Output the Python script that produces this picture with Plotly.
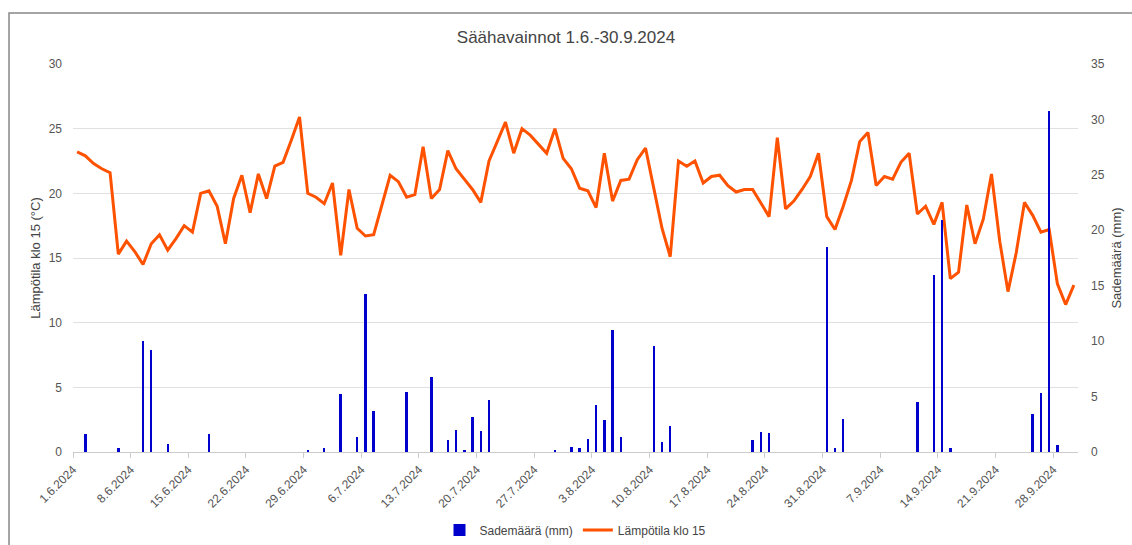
import pandas as pd
import plotly.graph_objects as go

# ---- data ----
start_date = "2024-06-01"
end_date = "2024-09-30"

temperature = [
    23.2, 22.9, 22.3, 21.9, 21.6, 15.3, 16.3, 15.5, 14.5, 16.1,
    16.8, 15.6, 16.5, 17.5, 17.0, 20.0, 20.2, 19.0, 16.1, 19.6,
    21.4, 18.5, 21.5, 19.6, 22.1, 22.4, 24.1, 25.9, 20.0, 19.7,
    19.2, 20.8, 15.2, 20.3, 17.3, 16.7, 16.8, 19.0, 21.4, 20.9,
    19.7, 19.9, 23.6, 19.6, 20.3, 23.3, 21.9, 21.1, 20.3, 19.3,
    22.5, 24.0, 25.5, 23.1, 25.0, 24.5, 23.8, 23.1, 25.0, 22.7,
    21.9, 20.4, 20.2, 18.9, 23.1, 19.4, 21.0, 21.1, 22.6, 23.5,
    20.4, 17.3, 15.1, 22.5, 22.1, 22.5, 20.8, 21.3, 21.4, 20.6,
    20.1, 20.3, 20.3, 19.2, 18.2, 24.3, 18.8, 19.4, 20.3, 21.3,
    23.1, 18.2, 17.2, 19.0, 21.0, 24.0, 24.7, 20.6, 21.3, 21.1,
    22.4, 23.1, 18.4, 19.0, 17.6, 19.3, 13.4, 13.9, 19.1, 16.1,
    18.0, 21.5, 16.3, 12.4, 15.4, 19.3, 18.3, 17.0, 17.2, 13.0,
    11.4, 12.9,
]

precipitation = [
    0, 1.6, 0, 0, 0, 0.4, 0, 0, 10.0, 9.2,
    0, 0.7, 0, 0, 0, 0, 1.65, 0, 0, 0,
    0, 0, 0, 0, 0, 0, 0, 0, 0.2, 0,
    0.35, 0, 5.2, 0, 1.35, 14.25, 3.7, 0, 0, 0,
    5.4, 0, 0, 6.8, 0, 1.1, 1.95, 0.15, 3.15, 1.9,
    4.7, 0, 0, 0, 0, 0, 0, 0, 0.1, 0,
    0.45, 0.4, 1.2, 4.24, 2.86, 11.0, 1.35, 0, 0, 0,
    9.6, 0.9, 2.35, 0, 0, 0, 0, 0, 0, 0,
    0, 0, 1.05, 1.83, 1.7, 0, 0, 0, 0, 0,
    0, 18.5, 0.4, 3.0, 0, 0, 0, 0, 0, 0,
    0, 0, 4.5, 0, 16.0, 20.9, 0.35, 0, 0, 0,
    0, 0, 0, 0, 0, 0, 3.4, 5.3, 30.8, 0.6,
    0, 0,
]

tick_dates = ["2024-06-01", "2024-06-08", "2024-06-15", "2024-06-22", "2024-06-29",
              "2024-07-06", "2024-07-13", "2024-07-20", "2024-07-27", "2024-08-03",
              "2024-08-10", "2024-08-17", "2024-08-24", "2024-08-31", "2024-09-07",
              "2024-09-14", "2024-09-21", "2024-09-28"]
tick_labels = ["1.6.2024", "8.6.2024", "15.6.2024", "22.6.2024", "29.6.2024",
               "6.7.2024", "13.7.2024", "20.7.2024", "27.7.2024", "3.8.2024",
               "10.8.2024", "17.8.2024", "24.8.2024", "31.8.2024", "7.9.2024",
               "14.9.2024", "21.9.2024", "28.9.2024"]

title_text = "Säähavainnot 1.6.-30.9.2024"
left_title = "Lämpötila klo 15 (°C)"
right_title = "Sademäärä (mm)"
bar_name = "Sademäärä (mm)"
line_name = "Lämpötila klo 15"

dates = pd.date_range(start_date, end_date, freq="D")
DAY_MS = 86400000

FONT = "Arial, Liberation Sans, sans-serif"
TEXT_COLOR = "#555555"

fig = go.Figure()
fig.add_trace(go.Bar(
    x=dates, y=precipitation, name=bar_name, yaxis="y2",
    marker=dict(color="#0000cc", line=dict(width=0)),
    width=0.3 * DAY_MS,
    xperiod=DAY_MS, xperiodalignment="middle",
))
fig.add_trace(go.Scatter(
    x=dates, y=temperature, name=line_name, mode="lines",
    line=dict(color="#ff5200", width=3),
    xperiod=DAY_MS, xperiodalignment="middle",
))

L, R, T, B = 73, 54, 64, 93
W, H = 1132, 545
pw, ph = W - L - R, H - T - B

fig.update_layout(
    width=W, height=H,
    margin=dict(l=L, r=R, t=T, b=B, pad=0, autoexpand=False),
    paper_bgcolor="white", plot_bgcolor="white",
    font=dict(family=FONT, size=12, color=TEXT_COLOR),
    title=dict(text=title_text, x=0.5, xanchor="center", y=1 - 37 / H, yanchor="middle",
               font=dict(size=17, color="#444444", family=FONT)),
    showlegend=True,
    legend=dict(orientation="h", x=0.5, xanchor="center", y=(452 - 530) / ph,
                yanchor="middle", font=dict(size=12, color="#444444"),
                traceorder="normal", itemwidth=30),
    bargap=0,
    xaxis=dict(
        type="date", automargin=False,
        range=["2024-06-01", "2024-10-01"],
        tickmode="array", tickvals=tick_dates, ticktext=tick_labels,
        tickangle=-45, ticks="outside", ticklen=5, tickcolor="#cccccc",
        showgrid=False, showline=True, linecolor="#cccccc", linewidth=1,
        zeroline=False, tickfont=dict(size=12, color=TEXT_COLOR),
    ),
    yaxis=dict(
        range=[0, 30], dtick=5, showgrid=True, gridcolor="#e0e0e0", gridwidth=1,
        zeroline=False, showline=False, ticks="", automargin=False,
        ticklabelstandoff=10,
        title=dict(text=left_title, font=dict(size=13, color="#444444"), standoff=5),
        tickfont=dict(size=12, color=TEXT_COLOR),
    ),
    yaxis2=dict(
        range=[0, 35], dtick=5, overlaying="y", side="right", showgrid=False,
        zeroline=False, showline=False, ticks="", automargin=False,
        ticklabelstandoff=12,
        title=dict(text=right_title, font=dict(size=13, color="#444444"), standoff=8),
        tickfont=dict(size=12, color=TEXT_COLOR),
    ),
    shapes=[dict(
        type="rect", xref="paper", yref="paper",
        x0=(9 - L) / pw, x1=(W + 10 - L) / pw,
        y0=(452 - H - 20) / ph, y1=(452 - 13) / ph,
        line=dict(color="#888888", width=1.5), fillcolor="rgba(0,0,0,0)", layer="below",
    )],
)

fig.write_html(
    "out.html",
    config={"displayModeBar": False},
    post_script="document.body.style.margin='0';document.body.style.padding='0';"
                "document.body.style.overflow='hidden';",
)
